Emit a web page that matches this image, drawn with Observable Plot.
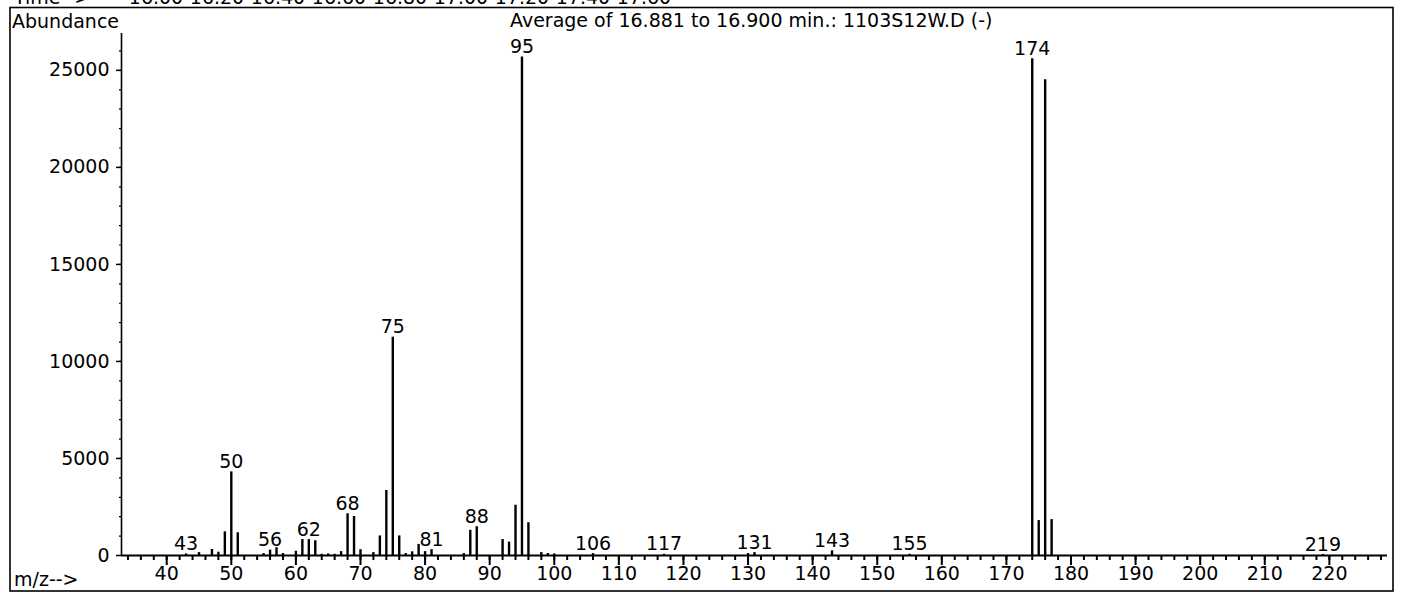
<!DOCTYPE html>
<html><head><meta charset="utf-8">
<script src="https://cdn.jsdelivr.net/npm/d3@7"></script>
<script src="https://cdn.jsdelivr.net/npm/@observablehq/plot@0.6"></script>
<style>body{margin:0;background:#fff} svg{display:block}</style>
</head><body><div id="chart"></div>
<script>
// m/z values and their abundances
const mz =        [43, 45, 47, 48, 49, 50, 51, 55, 56, 57, 58, 60, 61, 62, 63, 64, 65, 66, 67, 68, 69, 70, 72, 73, 74, 75, 76, 77, 78, 79, 80, 81, 86, 87, 88, 92, 93, 94, 95, 96, 98, 99, 100, 106, 117, 130, 131, 143, 155, 174, 175, 176, 177, 219];
const abundance = [80, 150, 310, 170, 1220, 4310, 1170, 100, 280, 400, 100, 220, 820, 820, 760, 60, 80, 60, 200, 2150, 2010, 300, 150, 1010, 3350, 11250, 1010, 100, 190, 570, 200, 300, 100, 1300, 1480, 820, 690, 2590, 25690, 1690, 150, 100, 80, 100, 60, 100, 150, 240, 60, 25600, 1800, 24520, 1850, 50];
const peakLabels = [43, 50, 56, 62, 68, 75, 81, 88, 95, 106, 117, 131, 143, 155, 174, 219];
const yTickValues = [0, 5000, 10000, 15000, 20000, 25000];
const xTickValues = [40, 50, 60, 70, 80, 90, 100, 110, 120, 130, 140, 150, 160, 170, 180, 190, 200, 210, 220];
const timeLabels = ["16.00", "16.20", "16.40", "16.60", "16.80", "17.00", "17.20", "17.40", "17.60"];
const titleText = "Average of 16.881 to 16.900 min.: 1103S12W.D (-)";
const yTitle = "Abundance";
const xTitle = "m/z-->";
const timeTitle = "Time-->";

const data = mz.map((m, i) => ({mz: m, ab: abundance[i]}));
const labeled = data.filter(d => peakLabels.includes(d.mz));
const font = "'DejaVu Sans', sans-serif";

const chart = Plot.plot({
  width: 1401, height: 593,
  marginLeft: 121, marginRight: 14, marginTop: 33, marginBottom: 38,
  style: {fontFamily: font, fontSize: "19px", color: "#000", background: "#fff", overflow: "hidden"},
  x: {domain: [33, 229], label: null},
  y: {domain: [0, 26900], label: null},
  marks: [
    Plot.ruleX(data, {x: "mz", y1: 0, y2: "ab", stroke: "#000", strokeWidth: 2.4}),
    Plot.ruleX([33], {stroke: "#000", strokeWidth: 1.6}),
    Plot.ruleY([0], {stroke: "#000", strokeWidth: 1.8}),
    Plot.axisY({ticks: d3.range(0, 27000, 1000), tickSize: 2, tickFormat: () => "", label: null, strokeWidth: 1.2}),
    Plot.axisY({ticks: yTickValues, tickSize: 5, tickPadding: 7, label: null, strokeWidth: 1.5, tickFormat: d => String(d)}),
    Plot.axisX({ticks: d3.range(34, 229, 2), tickSize: 5, tickFormat: () => "", label: null, strokeWidth: 2}),
    Plot.axisX({ticks: xTickValues, tickSize: 10, tickPadding: 1, label: null, strokeWidth: 2, tickFormat: d => String(d)}),
    Plot.text(labeled, {x: "mz", y: "ab", text: d => String(d.mz), lineAnchor: "bottom", dy: -4, fontSize: 19, fill: "#000"})
  ]
});

const svg = d3.select(chart);
const g = svg.append("g").attr("font-family", font).attr("font-size", 19).attr("fill", "#000").attr("text-anchor", "start");
// outer frame
g.append("rect").attr("x", 10).attr("y", 7.5).attr("width", 1383).attr("height", 583.5)
  .attr("fill", "none").attr("stroke", "#000").attr("stroke-width", 1.6);
// clipped header (time axis of the chromatogram above)
g.append("text").attr("x", 14).attr("y", 4).text(timeTitle);
const tScale = d3.scaleLinear([16.0, 16.2], [156, 217]);
timeLabels.forEach(t => g.append("text").attr("x", tScale(+t)).attr("y", 4).attr("text-anchor", "middle").text(t));
g.append("text").attr("x", 12).attr("y", 28).text(yTitle);
g.append("text").attr("x", 510).attr("y", 27).text(titleText);
g.append("text").attr("x", 14).attr("y", 586).text(xTitle);

document.getElementById("chart").appendChild(chart);
</script>
</body></html>
